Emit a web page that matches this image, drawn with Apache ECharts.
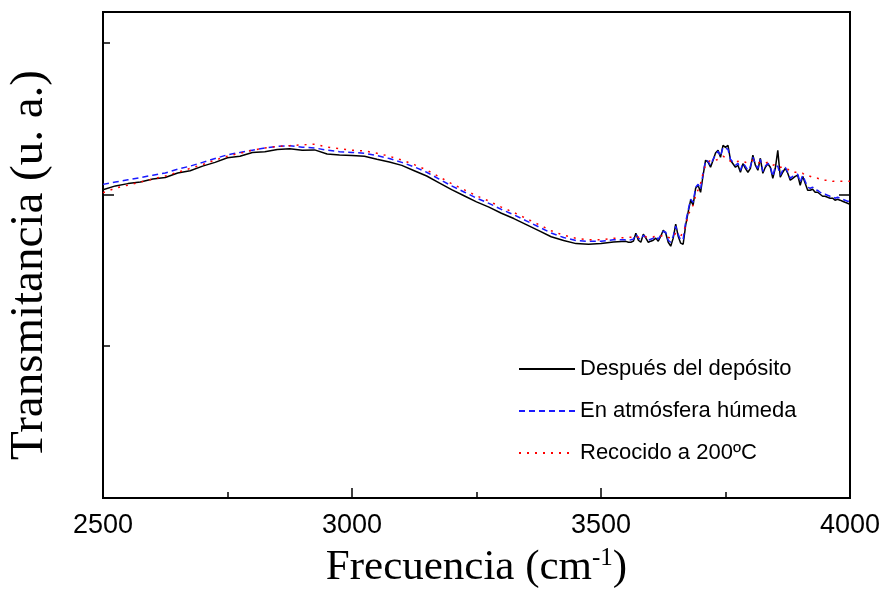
<!DOCTYPE html>
<html>
<head>
<meta charset="utf-8">
<script src="https://cdn.jsdelivr.net/npm/echarts@6/dist/echarts.min.js"></script>
<style>
  html, body { margin: 0; padding: 0; background: #fff; }
  #chart { width: 886px; height: 596px; }
</style>
</head>
<body>
<div id="chart"></div>
<script>
// frecuencias (cm-1)
var freq = [
  2500, 2525, 2550, 2575, 2600, 2625, 2650, 2675, 2700, 2725, 2750, 2775, 2800, 2825, 2850,
  2875, 2900, 2925, 2950, 2975, 3000, 3025, 3050, 3075, 3100, 3125, 3150, 3175, 3200, 3225,
  3250, 3275, 3300, 3325, 3350, 3375, 3400, 3425, 3450, 3475, 3500, 3525, 3550,
  3555, 3560, 3565, 3570, 3575, 3580, 3585, 3590, 3595, 3600,
  3605, 3610, 3615, 3620, 3625, 3630, 3635, 3640, 3645, 3650,
  3655, 3660, 3665, 3670, 3675, 3680, 3685, 3690, 3695, 3700,
  3705, 3710, 3715, 3720, 3725, 3730, 3735, 3740, 3745, 3750,
  3755, 3760, 3765, 3770, 3775, 3780, 3785, 3790, 3795, 3800,
  3805, 3810, 3815, 3820, 3825, 3830, 3835, 3840, 3845, 3850,
  3855, 3860, 3865, 3870, 3875, 3880, 3885, 3890, 3895, 3900,
  3905, 3910, 3915, 3920, 3925, 3930, 3935, 3940, 3945, 3950,
  3955, 3960, 3965, 3970, 3975, 3980, 3985, 3990, 3995, 4000
];

// Después del depósito
var despues = [
  2.03, 2.055, 2.07, 2.08, 2.10, 2.11, 2.14, 2.155, 2.185, 2.21, 2.24, 2.25, 2.275, 2.28, 2.295,
  2.30, 2.29, 2.292, 2.265, 2.258, 2.255, 2.25, 2.23, 2.212, 2.19, 2.155, 2.12, 2.075, 2.03, 1.99,
  1.95, 1.915, 1.875, 1.84, 1.80, 1.76, 1.72, 1.695, 1.675, 1.67, 1.675, 1.685, 1.69,
  1.684, 1.684, 1.691, 1.743, 1.697, 1.684, 1.737, 1.711, 1.684, 1.691,
  1.697, 1.711, 1.691, 1.724, 1.763, 1.743, 1.684, 1.658, 1.711, 1.803,
  1.724, 1.678, 1.671, 1.796, 1.882, 1.961, 1.928, 2.039, 2.059, 2.013,
  2.125, 2.224, 2.211, 2.178, 2.224, 2.271, 2.289, 2.243, 2.322, 2.309,
  2.322, 2.224, 2.201, 2.178, 2.191, 2.145, 2.201, 2.171, 2.145, 2.171,
  2.257, 2.191, 2.158, 2.237, 2.138, 2.178, 2.201, 2.178, 2.105, 2.171,
  2.289, 2.112, 2.145, 2.171, 2.138, 2.092, 2.105, 2.118, 2.125, 2.059,
  2.118, 2.072, 2.026, 2.026, 2.033, 2.013, 2.013, 2.000, 1.987, 1.987,
  1.980, 1.974, 1.974, 1.961, 1.967, 1.961, 1.954, 1.947, 1.941, 1.934
];

// En atmósfera húmeda
var humeda = [
  2.065, 2.08, 2.095, 2.11, 2.125, 2.14, 2.165, 2.185, 2.21, 2.235, 2.26, 2.275, 2.29, 2.305, 2.315,
  2.32, 2.31, 2.305, 2.29, 2.28, 2.275, 2.27, 2.255, 2.235, 2.21, 2.18, 2.145, 2.10, 2.055, 2.015,
  1.975, 1.94, 1.90, 1.865, 1.825, 1.785, 1.745, 1.715, 1.695, 1.69, 1.69, 1.70, 1.70,
  1.697, 1.700, 1.704, 1.737, 1.711, 1.700, 1.730, 1.717, 1.697, 1.704,
  1.711, 1.724, 1.704, 1.730, 1.756, 1.750, 1.697, 1.684, 1.724, 1.790,
  1.737, 1.697, 1.704, 1.816, 1.895, 1.967, 1.947, 2.046, 2.066, 2.033,
  2.138, 2.224, 2.217, 2.191, 2.230, 2.257, 2.283, 2.250, 2.309, 2.303,
  2.296, 2.230, 2.211, 2.191, 2.204, 2.158, 2.204, 2.184, 2.158, 2.184,
  2.243, 2.197, 2.171, 2.230, 2.151, 2.184, 2.204, 2.184, 2.118, 2.184,
  2.184, 2.125, 2.158, 2.178, 2.145, 2.105, 2.118, 2.125, 2.132, 2.079,
  2.125, 2.086, 2.046, 2.040, 2.046, 2.026, 2.026, 2.013, 2.000, 2.000,
  1.993, 1.987, 1.987, 1.974, 1.980, 1.974, 1.967, 1.961, 1.954, 1.954
];

// Recocido a 200ºC
var recocido = [
  2.01, 2.04, 2.06, 2.08, 2.10, 2.12, 2.145, 2.17, 2.195, 2.225, 2.25, 2.27, 2.29, 2.305, 2.315,
  2.32, 2.325, 2.33, 2.31, 2.30, 2.29, 2.285, 2.27, 2.25, 2.225, 2.195, 2.16, 2.115, 2.07, 2.03,
  1.99, 1.955, 1.915, 1.88, 1.84, 1.80, 1.76, 1.73, 1.71, 1.70, 1.70, 1.71, 1.715,
  1.717, 1.717, 1.720, 1.724, 1.717, 1.717, 1.724, 1.720, 1.717, 1.717,
  1.720, 1.724, 1.720, 1.724, 1.730, 1.724, 1.717, 1.711, 1.724, 1.743,
  1.730, 1.724, 1.750, 1.790, 1.862, 1.900, 1.928, 1.993, 2.030, 2.072,
  2.140, 2.191, 2.211, 2.224, 2.230, 2.224, 2.230, 2.237, 2.250, 2.243,
  2.230, 2.217, 2.211, 2.211, 2.217, 2.211, 2.217, 2.211, 2.204, 2.217,
  2.224, 2.211, 2.204, 2.211, 2.204, 2.204, 2.211, 2.197, 2.191, 2.197,
  2.191, 2.178, 2.178, 2.171, 2.165, 2.151, 2.151, 2.145, 2.145, 2.138,
  2.138, 2.125, 2.125, 2.118, 2.112, 2.105, 2.105, 2.099, 2.092, 2.092,
  2.092, 2.092, 2.086, 2.086, 2.086, 2.086, 2.086, 2.086, 2.086, 2.086
];

var nombres = ['Después del depósito', 'En atmósfera húmeda', 'Recocido a 200ºC'];

function pares(vals) {
  return freq.map(function (f, i) { return [f, vals[i]]; });
}

var sans = 'Liberation Sans, Arial, sans-serif';
var serif = 'Liberation Serif, Times New Roman, serif';

var option = {
  animation: false,
  backgroundColor: '#fff',
  grid: {
    left: 103, right: 36, top: 12, bottom: 98,
    outerBoundsMode: 'none',
    show: true, borderColor: '#000', borderWidth: 2
  },
  legend: {
    data: nombres,
    orient: 'vertical',
    left: 518,
    top: 358,
    padding: 0,
    itemWidth: 56,
    itemHeight: 12,
    itemGap: 20,
    itemStyle: { opacity: 0 },
    textStyle: { fontFamily: sans, fontSize: 22, color: '#000' }
  },
  xAxis: {
    type: 'value',
    min: 2500, max: 4000, interval: 500,
    axisLine: { lineStyle: { color: '#000', width: 2 } },
    axisTick: { inside: true, length: 10, lineStyle: { color: '#000', width: 1.5 } },
    minorTick: { show: true, splitNumber: 2, length: 6, lineStyle: { color: '#000', width: 1.5 } },
    axisLabel: {
      fontFamily: sans, fontSize: 27, color: '#000', margin: 14,
      formatter: function (v) { return String(v); }
    },
    splitLine: { show: false },
    name: 'Frecuencia (cm{sup|-1})',
    nameLocation: 'middle',
    nameGap: 48,
    nameTextStyle: {
      fontFamily: serif, fontSize: 43, color: '#000',
      rich: { sup: { fontFamily: serif, fontSize: 25, color: '#000', verticalAlign: 'top', lineHeight: 40 } }
    }
  },
  yAxis: [
    {
      type: 'value', position: 'left',
      min: 0, max: 3.2, interval: 1,
      axisLine: { show: true, lineStyle: { color: '#000', width: 2 } },
      axisTick: { inside: true, length: 7, lineStyle: { color: '#000', width: 1.5 } },
      axisLabel: { show: false },
      splitLine: { show: false },
      name: 'Transmitancia (u. a.)',
      nameLocation: 'middle',
      nameGap: 50,
      nameTextStyle: { fontFamily: serif, fontSize: 47, color: '#000', padding: [0, 20, 0, 0] }
    },
    {
      type: 'value', position: 'left',
      min: 0, max: 3.2, interval: 2,
      axisLine: { show: false },
      axisTick: { inside: true, length: 11, lineStyle: { color: '#000', width: 1.5 } },
      axisLabel: { show: false },
      splitLine: { show: false }
    },
    {
      type: 'value', position: 'right',
      min: 0, max: 3.2, interval: 2,
      axisLine: { show: true, lineStyle: { color: '#000', width: 2 } },
      axisTick: { inside: true, length: 11, lineStyle: { color: '#000', width: 1.5 } },
      axisLabel: { show: false },
      splitLine: { show: false }
    }
  ],
  series: [
    {
      name: nombres[0], type: 'line', symbol: 'none', data: pares(despues),
      lineStyle: { color: '#000', width: 1.5, type: 'solid' },
      itemStyle: { color: '#000' }
    },
    {
      name: nombres[1], type: 'line', symbol: 'none', data: pares(humeda),
      lineStyle: { color: '#1a1aff', width: 1.5, type: [6, 4] },
      itemStyle: { color: '#1a1aff' }
    },
    {
      name: nombres[2], type: 'line', symbol: 'none', data: pares(recocido),
      lineStyle: { color: '#ff0000', width: 1.5, type: [2, 6] },
      itemStyle: { color: '#ff0000' }
    }
  ]
};

var myChart = echarts.init(document.getElementById('chart'));
myChart.setOption(option);
</script>
</body>
</html>
